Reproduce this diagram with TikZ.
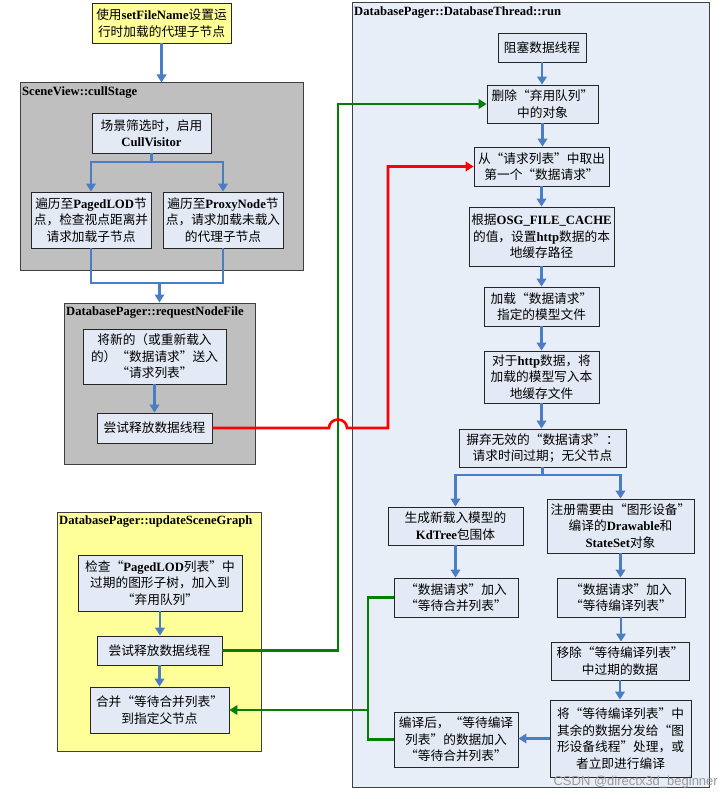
\documentclass[tikz,border=0pt]{standalone}
\usepackage{fontspec}
\setmainfont{Noto Sans CJK SC}
\newfontfamily\latserif{Liberation Serif}
\newfontfamily\wmfont{Liberation Sans}
\newcommand\LB[1]{{\latserif\bfseries #1}}
\usetikzlibrary{arrows.meta}
\definecolor{yfill}{HTML}{FFFF99}
\definecolor{gfill}{HTML}{BFBFBF}
\definecolor{bfill}{HTML}{E4EAF5}
\definecolor{rfill}{HTML}{E8EEF8}
\definecolor{bluel}{HTML}{4A7DC4}
\definecolor{greenl}{HTML}{008000}
\definecolor{redl}{HTML}{FF0000}
\tikzset{
  box/.style={draw=black!85, line width=0.8pt, fill=bfill, inner sep=0pt, align=center,
    font=\fontsize{12.7}{16.5}\selectfont},
  group/.style={draw=black!75, line width=1pt, inner sep=0pt},
  gtitle/.style={anchor=north west, inner sep=0pt, font=\fontsize{12.6}{15}\selectfont\latserif\bfseries},
  bline/.style={draw=bluel, line width=2.9pt, line join=miter},
  barrow/.style={bline, -{Triangle[length=8pt,width=9.5pt]}},
  gline/.style={draw=greenl, line width=2.6pt},
  garrow/.style={gline, -{Triangle[length=8pt,width=9.5pt]}},
  rline/.style={draw=redl, line width=2.6pt},
  rarrow/.style={rline, -{Triangle[length=8pt,width=9.5pt]}},
}
\newcommand\bx[6]{\node[box, minimum width=#4pt, minimum height=#5pt] (#1) at (#2,#3) {#6};}
\begin{document}
\begin{tikzpicture}[x=1pt,y=-1pt]
\path[use as bounding box, fill=white] (0,0) rectangle (727,799);
% groups
\node[group, fill=gfill, minimum width=283pt, minimum height=187pt] (cull) at (161.5,176.5) {};
\node[gtitle] (cullt) at (22,87) {SceneView::cullStage};
\node[group, fill=gfill, minimum width=191pt, minimum height=161pt] (req) at (159.5,383.5) {};
\node[gtitle] (reqt) at (66,307) {DatabasePager::requestNodeFile};
\node[group, fill=yfill, minimum width=204pt, minimum height=239pt] (upd) at (159,631.5) {};
\node[gtitle] (updt) at (59,516) {DatabasePager::updateSceneGraph};
\node[group, fill=rfill, minimum width=357pt, minimum height=784pt] (run) at (530.5,395) {};
\node[gtitle] (runt) at (354,7) {DatabasePager::DatabaseThread::run};
% left column
\node[box, fill=yfill, minimum width=139pt, minimum height=40pt] (top) at (161.5,23) {使用\LB{setFileName}设置运\\行时加载的代理子节点};
\bx{cv}{151.5}{133}{119}{40}{场景筛选时，启用\\\LB{CullVisitor}}
\bx{plod}{91}{220}{120}{56}{遍历至\LB{PagedLOD}节\\点，检查视点距离并\\请求加载子节点}
\bx{proxy}{223}{220}{120}{56}{遍历至\LB{ProxyNode}节\\点，请求加载未载入\\的代理子节点}
\bx{rin}{154.5}{356.5}{143}{55}{将新的（或重新载入\\的）“数据请求”送入\\“请求列表”}
\bx{try1}{154.5}{428}{115}{30}{尝试释放数据线程}
\bx{check}{160}{583}{164}{56}{检查“\LB{PagedLOD}列表”中\\过期的图形子树，加入到\\“弃用队列”}
\bx{try2}{159.5}{650.5}{125}{29}{尝试释放数据线程}
\bx{merge}{159.5}{710}{139}{46}{合并“等待合并列表”\\到指定父节点}
% right column
\bx{block}{542}{47.5}{88}{29}{阻塞数据线程}
\bx{del}{542.5}{104}{111}{38}{删除“弃用队列”\\中的对象}
\bx{fetch}{541.5}{166.5}{135}{39}{从“请求列表”中取出\\第一个“数据请求”}
\bx{cache}{541.5}{236.5}{145}{59}{根据\LB{OSG\_FILE\_CACHE}\\的值，设置\LB{http}数据的本\\地缓存路径}
\bx{load}{541.5}{306.5}{115}{39}{加载“数据请求”\\指定的模型文件}
\bx{http}{541.5}{377}{115}{52}{对于\LB{http}数据，将\\加载的模型写入本\\地缓存文件}
\bx{discard}{542.5}{448}{167}{38}{摒弃无效的“数据请求”：\\请求时间过期；无父节点}
\bx{kd}{455.5}{526}{135}{38}{生成新载入模型的\\\LB{KdTree}包围体}
\bx{reg}{620.5}{526}{147}{54}{注册需要由“图形设备”\\编译的\LB{Drawable}和\\\LB{StateSet}对象}
\bx{addmerge}{456}{597.5}{124}{39}{“数据请求”加入\\“等待合并列表”}
\bx{addcomp}{621}{597.5}{128}{39}{“数据请求”加入\\“等待编译列表”}
\bx{remove}{620}{661}{138}{38}{移除“等待编译列表”\\中过期的数据}
\bx{dispatch}{620.5}{738.5}{141}{77}{将“等待编译列表”中\\其余的数据分发给“图\\形设备线程”处理，或\\者立即进行编译}
\bx{compiled}{456}{739.5}{124}{55}{编译后，“等待编译\\列表”的数据加入\\“等待合并列表”}
% coordinates
\coordinate (b1) at (151.5,162);
\coordinate (m1) at (159.5,283);
\coordinate (b2) at (542.5,475);
\coordinate (gx) at (368,710);
\coordinate (gv) at (338,104);
\coordinate (rh1) at (329,428);
\coordinate (rv) at (388,428);
% blue connectors left
\draw[barrow] (top.south) -- (top.south |- cull.north);
\draw[barrow] (cv.south) -- (b1) -| (plod.north);
\draw[barrow] (b1) -| (proxy.north);
\draw[bline] (plod.south) |- (m1);
\draw[bline] (proxy.south) |- (m1);
\draw[barrow] (m1) -- (req.north);
\draw[barrow] (rin.south) -- (try1.north);
\draw[barrow] (check.south) -- (check.south |- try2.north);
\draw[barrow] (try2.south) -- (try2.south |- merge.north);
% blue connectors right
\draw[barrow] (block.south) -- (block.south |- del.north);
\draw[barrow] (del.south) -- (del.south |- fetch.north);
\draw[barrow] (fetch.south) -- (fetch.south |- cache.north);
\draw[barrow] (cache.south) -- (cache.south |- load.north);
\draw[barrow] (load.south) -- (load.south |- http.north);
\draw[barrow] (http.south) -- (http.south |- discard.north);
\draw[bline] (discard.south) -- (b2);
\draw[barrow] (b2) -| (kd.north);
\draw[barrow] (b2) -| (reg.north);
\draw[barrow] (kd.south) -- (kd.south |- addmerge.north);
\draw[barrow] (reg.south) -- (reg.south |- addcomp.north);
\draw[barrow] (addcomp.south) -- (addcomp.south |- remove.north);
\draw[barrow] (remove.south) -- (remove.south |- dispatch.north);
\draw[barrow] (dispatch.west) -- (dispatch.west -| compiled.east);
% green connectors
\draw[garrow] (try2.east) -| (gv) -- (del.west);
\draw[gline] (addmerge.west) -| (gx) |- (compiled.west);
\draw[garrow] (gx) -- (merge.east);
% red connector with hop
\draw[rarrow] (try1.east) -- (rh1) arc[start angle=180, end angle=360, x radius=9, y radius=8.5] -- (rv) |- (fetch.west);
% watermark
\node[anchor=south east, inner sep=0pt, text=black!40, font=\fontsize{13}{15}\selectfont\wmfont] (wm) at (718,788) {CSDN @directx3d\_beginner};
\end{tikzpicture}
\end{document}
